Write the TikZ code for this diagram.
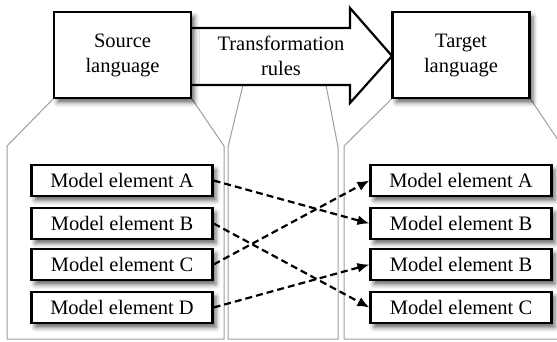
\documentclass[tikz,border=0pt]{standalone}
\usepackage{fontspec}
\setmainfont{Liberation Serif}
\usetikzlibrary{arrows.meta,shadows.blur,backgrounds}

\tikzset{
  box/.style={draw=black, line width=2.2pt, fill=white, inner sep=0pt, align=center,
    font=\fontsize{20.5}{25}\selectfont,
    blur shadow={shadow xshift=3.5pt, shadow yshift=-4.5pt, shadow blur radius=4.5pt, shadow opacity=60}},
  langbox/.style={box, minimum width=137pt, minimum height=86pt},
  elembox/.style={box, minimum width=181pt, minimum height=31pt},
  panel/.style={draw=black!38, line width=1pt},
  bigarrow/.style={draw=black, line width=2.2pt, fill=white, line join=miter},
  link/.style={draw=black, line width=2.2pt, dash pattern=on 7pt off 4pt,
    -{Latex[length=12pt,width=10pt]}},
}

\begin{document}
\begin{tikzpicture}[x=1pt,y=-1pt]
  \useasboundingbox (0,0) rectangle (557,341);

  % transformation arrow between the two languages
  \path[bigarrow] (185,28) -- (350,28) -- (350,8) -- (392,56) -- (350,103)
    -- (350,85) -- (185,85) -- cycle;
  \node[font=\fontsize{20.5}{25}\selectfont, align=center] (rules) at (281,56)
    {Transformation\\rules};

  % language boxes
  \node[langbox] (src) at (122.5,55) {Source\\language};
  \node[langbox] (tgt) at (461,55) {Target\\language};

  % model elements of the source language
  \node[elembox] (sa) at (122,180.5) {Model element A};
  \node[elembox] (sb) at (122,223.5) {Model element B};
  \node[elembox] (sc) at (122,264.5) {Model element C};
  \node[elembox] (sd) at (122,307.5) {Model element D};

  % model elements of the target language
  \node[elembox] (ta) at (461,180.5) {Model element A};
  \node[elembox] (tb) at (461,223.5) {Model element B};
  \node[elembox] (tb2) at (461,264.5) {Model element B};
  \node[elembox] (tc) at (461,307.5) {Model element C};

  % panels opening out of each heading
  \begin{scope}[on background layer]
    \draw[panel] (src.south west) -- (7,146) -- (7,339) -- (224,339) -- (224,146)
      -- (src.south east);
    \draw[panel] (243,85) -- (228,147) -- (228,339) -- (338,339) -- (338,147)
      -- (326,85);
    \draw[panel] (tgt.south west) -- (344,146) -- (344,339) -- (562,339) -- (562,146)
      -- (tgt.south east);
  \end{scope}

  % element mappings
  \draw[link] (sa.east) -- (tb.west);
  \draw[link] (sb.east) -- (tc.west);
  \draw[link] (sc.east) -- (ta.west);
  \draw[link] (sd.east) -- (tb2.west);
\end{tikzpicture}
\end{document}
